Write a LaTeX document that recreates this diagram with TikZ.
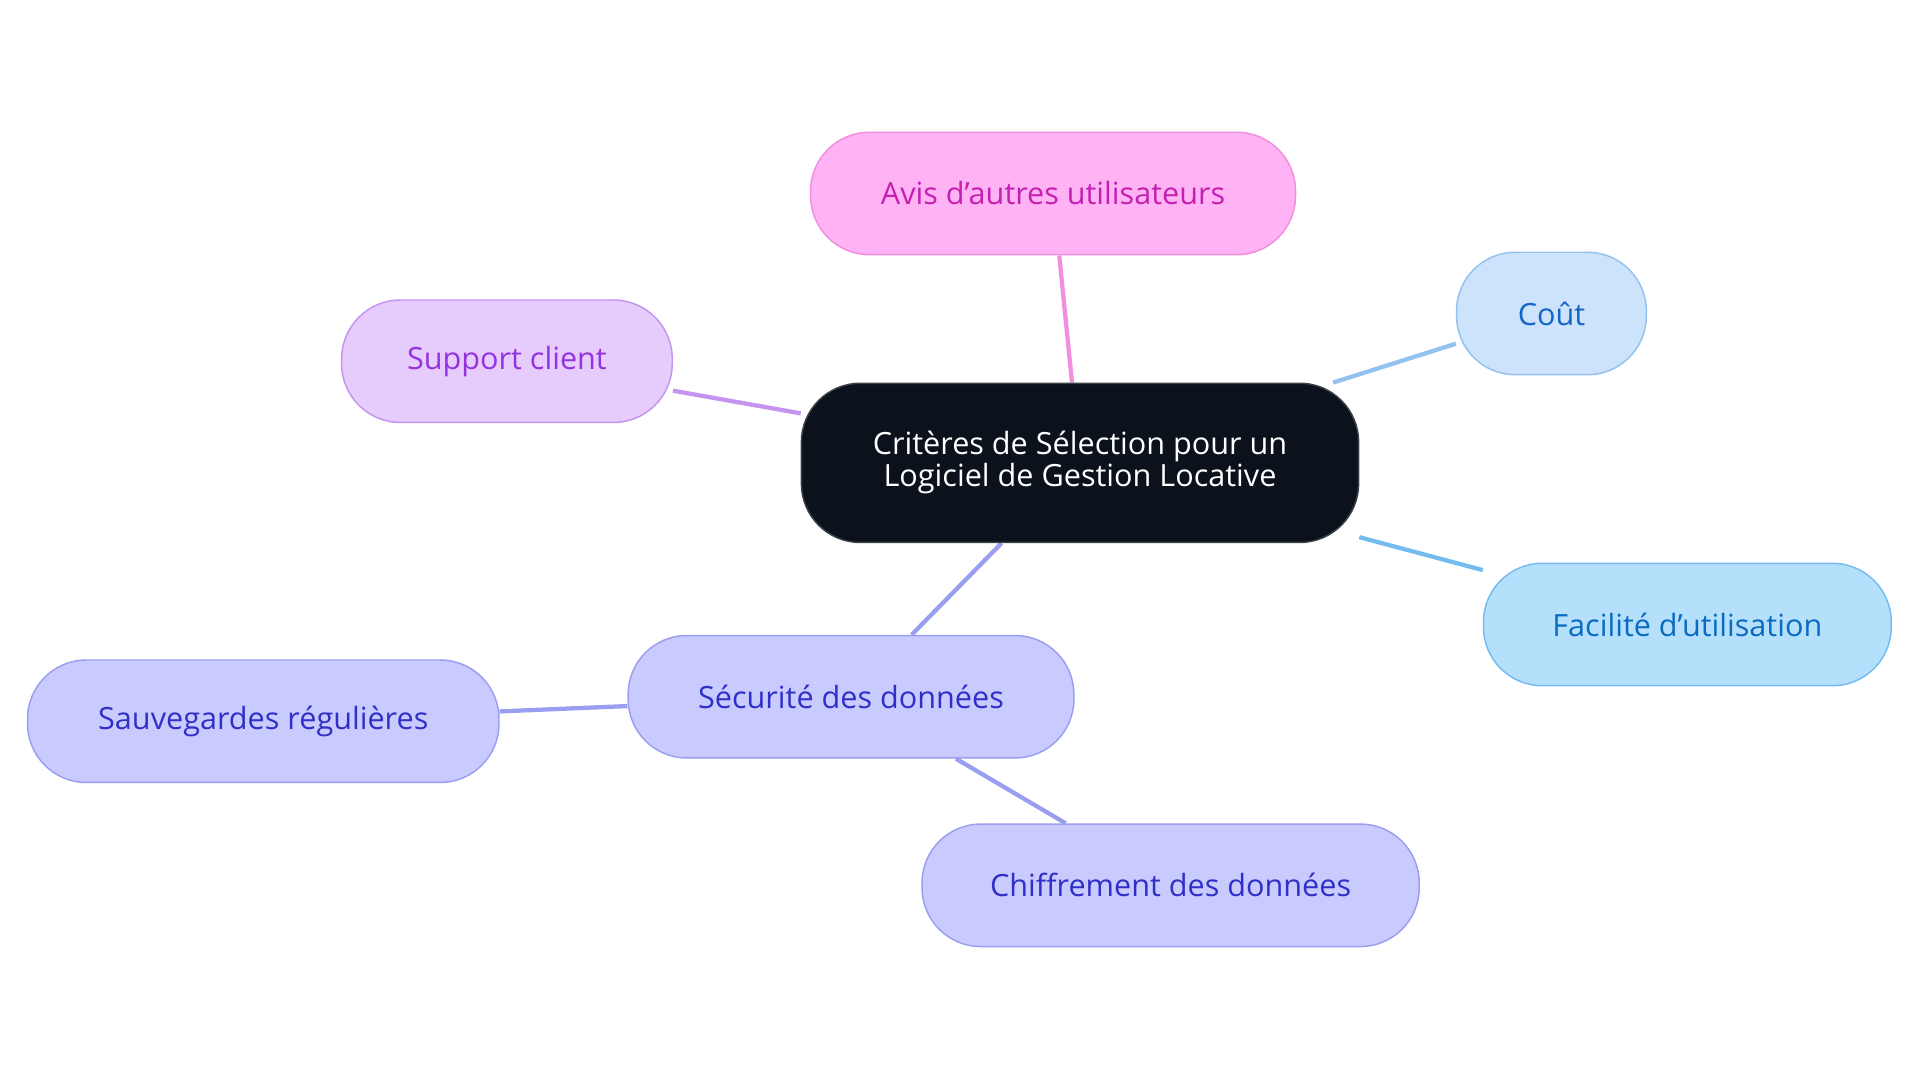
\documentclass[tikz,border=0pt]{standalone}
\usepackage{fontspec}
\setmainfont{Open Sans}
\usetikzlibrary{backgrounds}
\definecolor{cA}{HTML}{FFB3F5}\definecolor{bA}{HTML}{F08EE0}\definecolor{tA}{HTML}{C41FB0}
\definecolor{cC}{HTML}{CDE3FB}\definecolor{bC}{HTML}{93C1F0}\definecolor{tC}{HTML}{1565C8}
\definecolor{cS}{HTML}{E6CCFC}\definecolor{bS}{HTML}{C594F0}\definecolor{tS}{HTML}{9333E0}
\definecolor{cF}{HTML}{B5E0FC}\definecolor{bF}{HTML}{74BCEF}\definecolor{tF}{HTML}{0B6BBF}
\definecolor{cD}{HTML}{C9CBFF}\definecolor{bD}{HTML}{9A9EF0}\definecolor{tD}{HTML}{3030C8}
\definecolor{cM}{HTML}{0B121C}
\begin{document}
\begin{tikzpicture}[x=1pt,y=-1pt,
  box/.style={draw,line width=1.2pt,rounded corners=48pt,minimum height=100pt,inner sep=0pt,font=\fontsize{25}{30}\selectfont,align=center},
  link/.style={line width=3.5pt}]
\useasboundingbox (0,0) rectangle (1568,884);
\node[box,fill=cM,draw=cM!80!white,text=white,minimum width=455pt,minimum height=130pt] (m) at (882,378) {Critères de Sélection pour un\\[-4pt]Logiciel de Gestion Locative};
\node[box,fill=cA,draw=bA,text=tA,minimum width=396pt] (a) at (860,158) {Avis d'autres utilisateurs};
\node[box,fill=cC,draw=bC,text=tC,minimum width=155pt] (c) at (1267,256) {Coût};
\node[box,fill=cS,draw=bS,text=tS,minimum width=270pt] (s) at (414,295) {Support client};
\node[box,fill=cF,draw=bF,text=tF,minimum width=333pt] (f) at (1378,510) {Facilité d'utilisation};
\node[box,fill=cD,draw=bD,text=tD,minimum width=364pt] (d) at (695,569) {Sécurité des données};
\node[box,fill=cD,draw=bD,text=tD,minimum width=385pt] (v) at (215,589) {Sauvegardes régulières};
\node[box,fill=cD,draw=bD,text=tD,minimum width=406pt] (h) at (956,723) {Chiffrement des données};
\begin{scope}[on background layer]
\draw[link,draw=bA] (m) -- (a);
\draw[link,draw=bC] (m) -- (c);
\draw[link,draw=bS] (m) -- (s);
\draw[link,draw=bF] (m) -- (f);
\draw[link,draw=bD] (m) -- (d);
\draw[link,draw=bD] (d) -- (v);
\draw[link,draw=bD] (d) -- (h);
\end{scope}
\end{tikzpicture}
\end{document}
